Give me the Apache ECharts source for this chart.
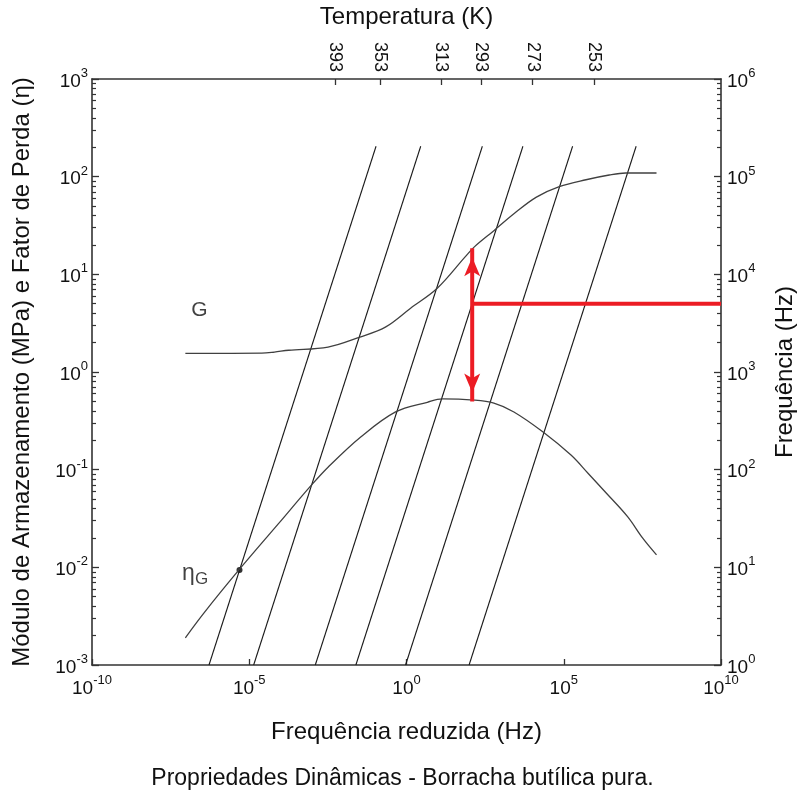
<!DOCTYPE html>
<html>
<head>
<meta charset="utf-8">
<style>html,body{margin:0;padding:0;background:#fff}#main{width:805px;height:796px}</style>
<script src="https://cdn.jsdelivr.net/npm/echarts@6/dist/echarts.min.js"></script>
</head>
<body>
<div id="main"></div>
<script>
// temperature lines (log10 of reduced freq where each line crosses 1 Hz)
var temps = [393, 353, 313, 293, 273, 253];
var logShift = [-6.28, -4.86, -2.90, -1.61, -0.03, 1.99];
var tempTickPos = [-2.27, -0.85, 1.10, 2.37, 4.01, 5.96];   // top axis, decades
var lineTopHz = 2.05e5;

// storage modulus G (MPa)
var gFreq = [9.3e-8, 2.5e-5, 6.3e-5, 1.8e-4, 3.2e-3, 3.3e-2, 0.22, 1.35, 9.5, 72, 141, 600, 2.6e3, 1.35e4, 7.2e4, 5.1e5, 2.8e6, 9.3e6, 8.9e7];
var gVal  = [1.55, 1.56, 1.60, 1.67, 1.80, 2.28, 2.9, 4.5, 7.2, 15, 19, 28, 41.7, 61.7, 79, 93, 104, 109, 109];

// loss factor eta
var etaFreq = [9.3e-8, 3.6e-7, 4.7e-6, 8.5e-5, 9.3e-4, 3.2e-3, 3.5e-2, 0.45, 4.6, 13.8, 141, 600, 2.6e3, 2.2e4, 1.7e5, 5.9e5, 2.2e6, 1.07e7, 3.2e7, 8.9e7];
var etaVal  = [0.0019, 0.0034, 0.0094, 0.028, 0.069, 0.106, 0.216, 0.39, 0.49, 0.53, 0.515, 0.48, 0.39, 0.243, 0.141, 0.092, 0.058, 0.033, 0.020, 0.0134];

var dotPoint = [4.9e-6, 0.0094];

// red reading example: 5000 Hz at 293 K
var redHz = 5000;
var redTempIdx = 3;
var redGTop = 18.5;
var redEtaBottom = 0.5;

var labelG = [2.6e-7, 4.3];
var labelEta = [1.9e-7, 0.0083];

var dom = document.getElementById('main');
var myChart = echarts.init(dom);

function supLabel(v) {
  var e = Math.round(Math.log(v) / Math.LN10);
  return '{b|10}{s|' + e + '}';
}
var supRich = {
  b: { fontSize: 19, lineHeight: 24, verticalAlign: 'bottom', color: '#111' },
  s: { fontSize: 13, lineHeight: 13, verticalAlign: 'top', color: '#111' }
};

function minorTicks(from, to) {
  var out = [];
  for (var d = from; d < to; d++) {
    for (var k = 2; k <= 9; k++) out.push(d + Math.log(k) / Math.LN10);
  }
  return out;
}

var axisLineStyle = { color: '#333', width: 1.6 };

var series = [];
temps.forEach(function (t, i) {
  var s = logShift[i];
  series.push({
    name: t + ' K',
    type: 'line',
    xAxisIndex: 0,
    yAxisIndex: 1,
    symbol: 'none',
    silent: true,
    lineStyle: { color: '#1a1a1a', width: 1.1 },
    data: [[Math.pow(10, s), 1], [Math.pow(10, s) * lineTopHz, lineTopHz]]
  });
});

series.push({
  name: 'G',
  type: 'line',
  xAxisIndex: 0,
  yAxisIndex: 0,
  symbol: 'none',
  smooth: 0.35,
  lineStyle: { color: '#404040', width: 1.3 },
  data: gFreq.map(function (f, i) { return [f, gVal[i]]; })
});

series.push({
  name: 'eta',
  type: 'line',
  xAxisIndex: 0,
  yAxisIndex: 0,
  symbol: 'none',
  smooth: 0.35,
  lineStyle: { color: '#404040', width: 1.3 },
  data: etaFreq.map(function (f, i) { return [f, etaVal[i]]; })
});

series.push({
  type: 'scatter',
  xAxisIndex: 0,
  yAxisIndex: 0,
  symbolSize: 6,
  itemStyle: { color: '#000' },
  data: [dotPoint]
});

var redFr = Math.pow(10, logShift[redTempIdx]) * redHz;
var red = '#ec1c24';

series.push({
  type: 'line',
  xAxisIndex: 0,
  yAxisIndex: 1,
  symbol: 'none',
  z: 5,
  lineStyle: { color: red, width: 4 },
  data: [[redFr, redHz], [1e10, redHz]]
});

series.push({
  type: 'line',
  xAxisIndex: 0,
  yAxisIndex: 0,
  symbol: 'arrow',
  symbolSize: [12, 19],
  showSymbol: true,
  z: 5,
  itemStyle: { color: red },
  lineStyle: { color: red, width: 4 },
  data: [
    { value: [redFr, redEtaBottom], symbolRotate: 180, symbolOffset: [0, -9] },
    { value: [redFr, redGTop], symbolRotate: 0, symbolOffset: [0, 9] }
  ]
});

series.push({
  type: 'scatter',
  xAxisIndex: 0,
  yAxisIndex: 0,
  symbolSize: 1,
  itemStyle: { color: 'transparent' },
  label: {
    show: true,
    position: 'inside',
    formatter: function (p) { return p.dataIndex === 0 ? '{g|G}' : '{e|η}{sub|G}'; },
    rich: {
      g: { fontSize: 21, color: '#111' },
      e: { fontSize: 23, color: '#111', lineHeight: 26, verticalAlign: 'top' },
      sub: { fontSize: 17, color: '#111', lineHeight: 20, verticalAlign: 'bottom' }
    }
  },
  data: [labelG, labelEta]
});

option = {
  animation: false,
  backgroundColor: '#fff',
  textStyle: { fontFamily: 'Liberation Sans, Arial, sans-serif' },
  title: {
    text: 'Propriedades Dinâmicas - Borracha butílica pura.',
    left: 'center',
    top: 762,
    textStyle: { fontSize: 23, fontWeight: 'normal', color: '#111' }
  },
  grid: { left: 92, right: 79, top: 79, bottom: 131, containLabel: false },
  xAxis: [
    {
      type: 'log',
      position: 'bottom',
      min: 1e-10,
      max: 1e10,
      interval: 5,
      name: 'Frequência reduzida (Hz)',
      nameLocation: 'middle',
      nameGap: 55,
      nameTextStyle: { fontSize: 24, color: '#111' },
      axisLine: { onZero: false, lineStyle: axisLineStyle },
      axisTick: { inside: true, length: 6, lineStyle: { color: '#333', width: 1.3 } },
      axisLabel: { formatter: supLabel, rich: supRich, margin: 9 },
      splitLine: { show: false },
      minorTick: { show: false }
    },
    {
      type: 'value',
      position: 'top',
      min: -10,
      max: 10,
      name: 'Temperatura (K)',
      nameLocation: 'middle',
      nameGap: 50,
      nameTextStyle: { fontSize: 24, color: '#111' },
      axisLine: { onZero: false, lineStyle: axisLineStyle },
      axisTick: { inside: true, length: 6, customValues: tempTickPos, lineStyle: { color: '#333', width: 1.3 } },
      axisLabel: {
        customValues: tempTickPos,
        rotate: 90,
        margin: 7,
        fontSize: 18,
        color: '#111',
        formatter: function (v) {
          for (var i = 0; i < tempTickPos.length; i++) {
            if (Math.abs(tempTickPos[i] - v) < 1e-6) return String(temps[i]);
          }
          return '';
        }
      },
      splitLine: { show: false }
    }
  ],
  yAxis: [
    {
      type: 'log',
      position: 'left',
      min: 1e-3,
      max: 1e3,
      interval: 1,
      name: 'Módulo de Armazenamento (MPa) e Fator de Perda (η)',
      nameLocation: 'middle',
      nameRotate: 90,
      nameGap: 58,
      nameTextStyle: { fontSize: 24, color: '#111' },
      axisLine: { onZero: false, lineStyle: axisLineStyle },
      axisTick: { inside: true, length: 7, lineStyle: { color: '#333', width: 1.3 } },
      axisLabel: { formatter: supLabel, rich: supRich, margin: 4 },
      splitLine: { show: false }
    },
    {
      type: 'log',
      position: 'right',
      min: 1,
      max: 1e6,
      interval: 1,
      name: 'Frequência (Hz)',
      nameLocation: 'middle',
      nameRotate: 90,
      nameGap: 52,
      nameTextStyle: { fontSize: 24, color: '#111' },
      axisLine: { onZero: false, lineStyle: axisLineStyle },
      axisTick: { inside: true, length: 7, lineStyle: { color: '#333', width: 1.3 } },
      axisLabel: { formatter: supLabel, rich: supRich, margin: 6 },
      splitLine: { show: false }
    },
    {
      type: 'value',
      position: 'left',
      min: -3,
      max: 3,
      axisLine: { show: false, onZero: false },
      axisTick: { inside: true, length: 4, customValues: minorTicks(-3, 3), lineStyle: { color: '#333', width: 1.2 } },
      axisLabel: { show: false },
      splitLine: { show: false }
    },
    {
      type: 'value',
      position: 'right',
      min: 0,
      max: 6,
      axisLine: { show: false, onZero: false },
      axisTick: { inside: true, length: 4, customValues: minorTicks(0, 6), lineStyle: { color: '#333', width: 1.2 } },
      axisLabel: { show: false },
      splitLine: { show: false }
    }
  ],
  series: series
};

if (option && typeof option === 'object') {
  myChart.setOption(option, true);
}
</script>
</body>
</html>
